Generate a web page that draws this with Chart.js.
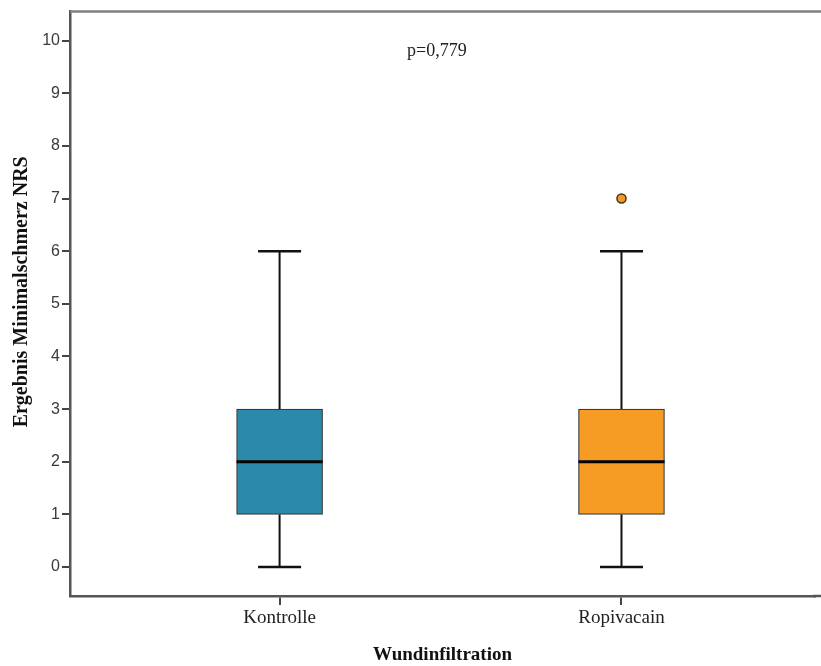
<!DOCTYPE html>
<html>
<head>
<meta charset="utf-8">
<script src="https://cdn.jsdelivr.net/npm/chart.js@4.4.1/dist/chart.umd.min.js"></script>
<style>
  html, body { margin: 0; padding: 0; background: #fff; }
  #wrap { width: 821px; height: 666px; }
</style>
</head>
<body>
<div id="wrap"><canvas id="box" width="821" height="666"></canvas></div>
<script>
/* Boxplot: Ergebnis Minimalschmerz NRS nach Wundinfiltration */

const groups = ["Kontrolle", "Ropivacain"];
const xPos = [1, 2];
const mins = [0, 0];
const q1 = [1, 1];
const medians = [2, 2];
const q3 = [3, 3];
const maxs = [6, 6];
const outliers = [[], [7]];
const yTicks = [0, 1, 2, 3, 4, 5, 6, 7, 8, 9, 10];
const boxColors = ["#2b89a9", "#f69b24"];

const pNote = "p=0,779";

const SERIF = "'Liberation Serif', 'Times New Roman', serif";
const SANS = "'Liberation Sans', Arial, sans-serif";

/* whiskers, caps, medians, frame, y title, p-value */
const boxExtras = {
  id: "boxExtras",
  afterDatasetsDraw(chart) {
    const { ctx, chartArea: a, scales: { x, y } } = chart;
    const half = 43;
    ctx.save();
    groups.forEach((g, i) => {
      const cx = x.getPixelForValue(xPos[i]);
      ctx.strokeStyle = "#111";
      ctx.lineWidth = 2;
      ctx.beginPath();
      ctx.moveTo(cx, y.getPixelForValue(q3[i])); ctx.lineTo(cx, y.getPixelForValue(maxs[i]));
      ctx.moveTo(cx, y.getPixelForValue(q1[i])); ctx.lineTo(cx, y.getPixelForValue(mins[i]));
      ctx.stroke();
      ctx.lineWidth = 2.5;
      ctx.beginPath();
      ctx.moveTo(cx - half / 2, y.getPixelForValue(maxs[i])); ctx.lineTo(cx + half / 2, y.getPixelForValue(maxs[i]));
      ctx.moveTo(cx - half / 2, y.getPixelForValue(mins[i])); ctx.lineTo(cx + half / 2, y.getPixelForValue(mins[i]));
      ctx.stroke();
      ctx.strokeStyle = "#000";
      ctx.lineWidth = 3;
      ctx.beginPath();
      ctx.moveTo(cx - half, y.getPixelForValue(medians[i])); ctx.lineTo(cx + half, y.getPixelForValue(medians[i]));
      ctx.stroke();
    });

    // top frame line, bottom axis carried to the edge
    ctx.strokeStyle = "#808080";
    ctx.lineWidth = 2.5;
    ctx.beginPath();
    ctx.moveTo(a.left, a.top); ctx.lineTo(chart.width, a.top);
    ctx.stroke();
    ctx.strokeStyle = "#555";
    ctx.beginPath();
    ctx.moveTo(a.right - 2, a.bottom); ctx.lineTo(chart.width, a.bottom);
    ctx.stroke();

    // y title
    ctx.fillStyle = "#111";
    ctx.font = "bold 20px " + SERIF;
    ctx.textAlign = "center";
    ctx.textBaseline = "middle";
    ctx.translate(22, (a.top + a.bottom) / 2 - 12);
    ctx.rotate(-Math.PI / 2);
    ctx.fillText("Ergebnis Minimalschmerz NRS", 0, 0);
    ctx.restore();

    // p value
    ctx.save();
    ctx.fillStyle = "#222";
    ctx.font = "18px " + SERIF;
    ctx.textAlign = "center";
    ctx.textBaseline = "middle";
    ctx.fillText(pNote, x.getPixelForValue(1.46), y.getPixelForValue(9.8));
    ctx.restore();
  }
};

new Chart(document.getElementById("box"), {
  data: {
    datasets: [
      {
        type: "bar",
        data: groups.map((g, i) => ({ x: xPos[i], y: [q1[i], q3[i]] })),
        backgroundColor: boxColors,
        borderColor: "#3a3a3a",
        borderWidth: 1.2,
        borderSkipped: false,
        barThickness: 86
      },
      {
        type: "scatter",
        data: outliers.flatMap((o, i) => o.map(v => ({ x: xPos[i], y: v }))),
        pointRadius: 4.5,
        pointBackgroundColor: "#f39a2c",
        pointBorderColor: "#4a3010",
        pointBorderWidth: 1.5
      }
    ]
  },
  options: {
    responsive: false,
    animation: false,
    layout: { padding: { top: 10, right: 0, left: 0, bottom: 0 } },
    plugins: { legend: { display: false }, tooltip: { enabled: false } },
    scales: {
      x: {
        type: "linear",
        offset: false,
        min: 0.387, max: 2.566,
        afterBuildTicks: (s) => { s.ticks = xPos.map(v => ({ value: v })); },
        afterFit: (s) => { s.height = 70; },
        ticks: {
          callback: (v) => groups[xPos.indexOf(v)],
          color: "#222",
          font: { family: SERIF, size: 19 },
          padding: 2,
          maxRotation: 0
        },
        grid: { offset: false, drawOnChartArea: false, drawTicks: true, tickLength: 9, color: "#444", lineWidth: 2 },
        border: { display: true, color: "#555", width: 2.5 },
        title: {
          display: true, text: "Wundinfiltration", color: "#111",
          font: { family: SERIF, size: 19, weight: "bold" },
          padding: { top: 0, bottom: 0 }
        }
      },
      y: {
        min: -0.55, max: 10.55,
        afterBuildTicks: (s) => { s.ticks = yTicks.map(v => ({ value: v })); },
        afterFit: (s) => { s.width = 70; },
        ticks: { color: "#3a3a3a", font: { family: SANS, size: 16 }, padding: 2 },
        grid: { drawOnChartArea: false, drawTicks: true, tickLength: 8, color: "#444", lineWidth: 2 },
        border: { display: true, color: "#555", width: 2.5 }
      }
    }
  },
  plugins: [boxExtras]
});
</script>
</body>
</html>
